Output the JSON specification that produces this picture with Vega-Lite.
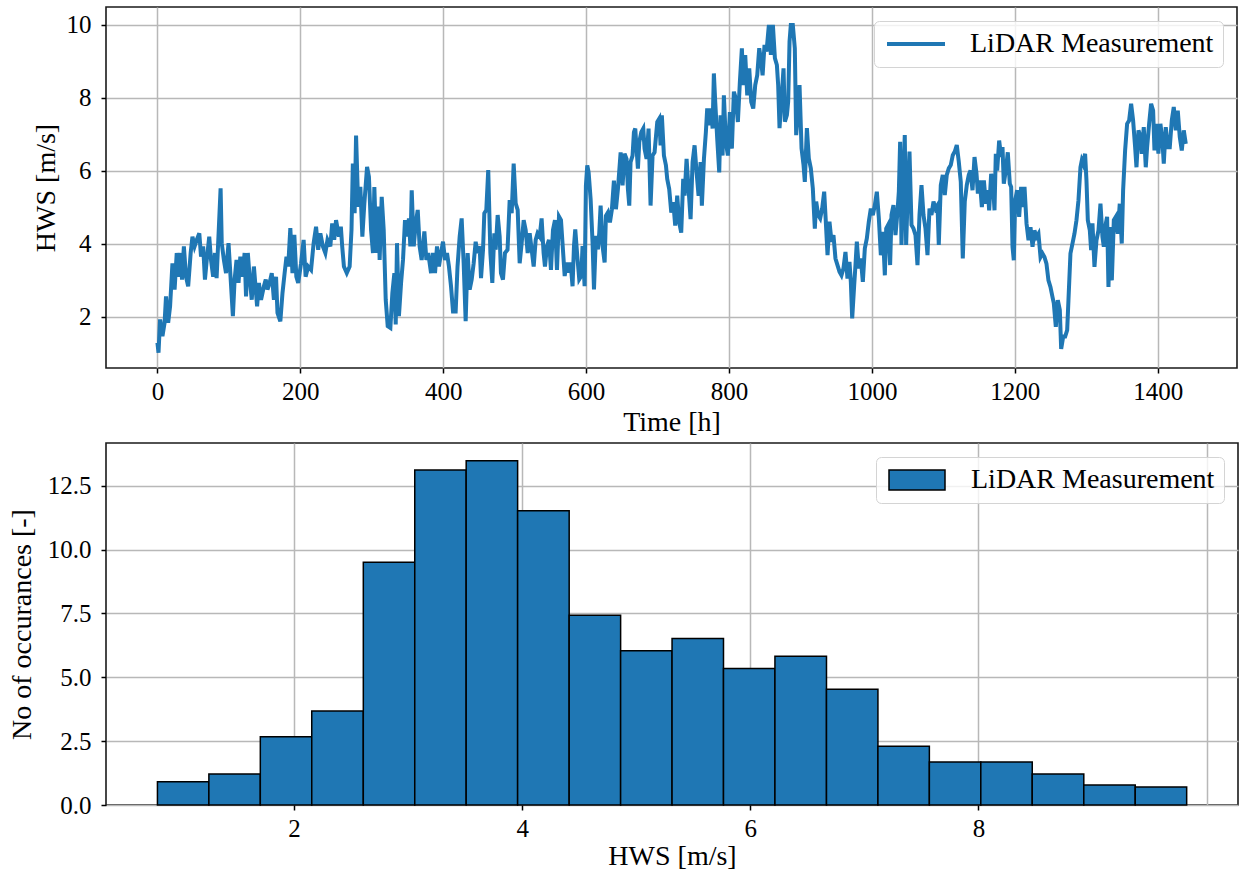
{
"$schema": "https://vega.github.io/schema/vega-lite/v6.json",
"background": "white",
"padding": {"left": 7, "top": 6, "right": 2, "bottom": 2},
"spacing": 5,
"config": {
  "font": "Liberation Serif",
  "view": {"stroke": "#1a1a1a", "strokeWidth": 1.6},
  "axis": {"labelFont": "Liberation Serif", "labelFontSize": 25, "labelColor": "black", "titleFont": "Liberation Serif", "titleFontSize": 28, "titleFontWeight": "normal", "titleColor": "black", "grid": true, "gridColor": "#b8b8b8", "gridWidth": 1.5, "domain": false, "tickColor": "black", "tickSize": 5, "tickWidth": 1.5, "labelPadding": 6, "titlePadding": 4, "labelFlush": false}
},
"datasets": {
"ts": [
{"t":0,"v":1.29},{"t":1.5,"v":1.02},{"t":3.7,"v":1.93},{"t":7,"v":1.47},{"t":10,"v":1.84},{"t":12,"v":2.56},{"t":15,"v":1.84},{"t":17.7,"v":2.29},{"t":21,"v":3.47},{"t":24,"v":2.75},{"t":27,"v":3.75},{"t":30,"v":3.1},{"t":32.6,"v":3.75},{"t":34.4,"v":3.02},{"t":37,"v":3.93},{"t":40,"v":3.1},{"t":43,"v":2.84},{"t":46.5,"v":3.75},{"t":49,"v":4.2},{"t":52,"v":3.93},{"t":55,"v":4.11},{"t":58.6,"v":4.29},{"t":61,"v":3.65},{"t":64,"v":3.93},{"t":66.5,"v":3.02},{"t":69,"v":3.56},{"t":72.5,"v":4.2},{"t":75,"v":3.56},{"t":78,"v":3.1},{"t":80.5,"v":3.75},{"t":82.8,"v":3.06},{"t":85.6,"v":4.29},{"t":88.4,"v":5.52},{"t":90,"v":4.02},{"t":93,"v":3.56},{"t":96,"v":3.2},{"t":99.5,"v":4.02},{"t":102,"v":3.2},{"t":105.6,"v":2.02},{"t":108,"v":3.02},{"t":110.7,"v":3.56},{"t":113.5,"v":2.93},{"t":116,"v":3.65},{"t":119,"v":3.1},{"t":122,"v":3.75},{"t":124,"v":2.56},{"t":126.5,"v":3.75},{"t":129,"v":3.1},{"t":132,"v":2.47},{"t":135,"v":3.38},{"t":137.6,"v":2.75},{"t":139.5,"v":2.29},{"t":142,"v":2.93},{"t":145,"v":2.47},{"t":149,"v":2.84},{"t":151.6,"v":3.02},{"t":154,"v":2.75},{"t":157,"v":2.93},{"t":160,"v":3.2},{"t":163,"v":2.47},{"t":166,"v":3.1},{"t":168,"v":2.11},{"t":172,"v":1.88},{"t":175,"v":2.65},{"t":178,"v":3.2},{"t":180.6,"v":3.65},{"t":183,"v":3.38},{"t":186,"v":4.43},{"t":189,"v":3.2},{"t":191.6,"v":4.25},{"t":194.4,"v":3.1},{"t":197,"v":2.93},{"t":201,"v":3.47},{"t":204.6,"v":4.11},{"t":207.4,"v":3.1},{"t":211,"v":3.38},{"t":215,"v":3.29},{"t":218.6,"v":4.02},{"t":222,"v":4.47},{"t":225,"v":3.84},{"t":228,"v":4.29},{"t":231.6,"v":3.93},{"t":235,"v":3.75},{"t":238,"v":4.11},{"t":242,"v":3.93},{"t":244.6,"v":4.56},{"t":247.4,"v":4.11},{"t":250,"v":4.65},{"t":254,"v":4.2},{"t":256.7,"v":4.47},{"t":258.6,"v":3.93},{"t":261,"v":3.38},{"t":265,"v":3.2},{"t":269,"v":3.38},{"t":271.6,"v":4.38},{"t":273.5,"v":6.2},{"t":276,"v":4.84},{"t":278,"v":6.97},
{"t":281,"v":5.02},{"t":284,"v":5.56},{"t":286.8,"v":4.2},{"t":289.6,"v":5.11},{"t":293.4,"v":6.11},{"t":296,"v":5.84},{"t":299,"v":4.38},{"t":301.7,"v":3.75},{"t":303.6,"v":5.56},{"t":306.4,"v":3.75},{"t":309.2,"v":5.02},{"t":311,"v":3.56},{"t":313.9,"v":5.29},{"t":316.7,"v":4.38},{"t":319.5,"v":2.47},{"t":322.3,"v":1.75},{"t":326,"v":1.7},{"t":328.8,"v":2.65},{"t":331.6,"v":3.2},{"t":333.5,"v":1.79},{"t":335.3,"v":4.02},{"t":338,"v":2.02},{"t":341,"v":2.93},{"t":343.7,"v":3.56},{"t":346.5,"v":4.65},{"t":349.3,"v":4.2},{"t":352,"v":4.7},{"t":354,"v":3.93},{"t":355.9,"v":5.47},{"t":358.7,"v":3.93},{"t":361.5,"v":4.56},{"t":364.3,"v":4.93},{"t":367,"v":3.93},{"t":369.8,"v":3.56},{"t":373.6,"v":4.34},{"t":376.4,"v":3.56},{"t":379,"v":3.75},{"t":383,"v":3.2},{"t":385.7,"v":3.75},{"t":388.5,"v":3.2},{"t":391.3,"v":3.93},{"t":394,"v":3.38},{"t":396.9,"v":3.75},{"t":399.7,"v":4.06},{"t":402.5,"v":3.56},{"t":405.3,"v":3.75},{"t":408,"v":3.38},{"t":410.9,"v":2.84},{"t":413.7,"v":2.15},{"t":417.4,"v":2.15},{"t":420,"v":3.38},{"t":423,"v":4.2},{"t":425.8,"v":4.7},{"t":428.6,"v":3.47},{"t":431.4,"v":1.88},{"t":434.2,"v":3.75},{"t":437,"v":2.75},{"t":439.8,"v":3.02},{"t":442.6,"v":3.47},{"t":445.4,"v":4.06},{"t":448,"v":3.75},{"t":451,"v":3.93},{"t":452.9,"v":3.06},{"t":455.7,"v":3.84},{"t":457.5,"v":4.84},{"t":460.3,"v":4.93},{"t":463,"v":6.02},{"t":466,"v":3.75},{"t":468.7,"v":2.93},{"t":471.5,"v":4.29},{"t":473.4,"v":3.84},{"t":476.2,"v":4.79},{"t":479,"v":4.2},{"t":480.8,"v":3.2},{"t":483.6,"v":3.02},{"t":486.4,"v":3.75},{"t":490,"v":3.84},{"t":493,"v":5.2},{"t":495.8,"v":4.84},{"t":498.6,"v":6.2},{"t":501.4,"v":5.11},{"t":504.2,"v":4.93},{"t":507,"v":3.47},{"t":509.8,"v":4.02},{"t":512.6,"v":4.65},{"t":515.4,"v":4.38},{"t":518.2,"v":3.75},{"t":521,"v":4.29},{"t":523.8,"v":3.84},{"t":526.6,"v":3.38},{"t":529.4,"v":4.11},{"t":532,"v":4.29},{"t":535,"v":4.2},{"t":537.7,"v":4.7},{"t":540.5,"v":3.75},{"t":542.4,"v":3.38},{"t":545.2,"v":3.93},{"t":548,"v":4.11},{"t":550.8,"v":3.29},{"t":553.6,"v":4.38},{"t":556.4,"v":4.65},{"t":559.2,"v":3.29},{"t":562,"v":4.75},{"t":564.8,"v":4.65},
{"t":570,"v":3.12},{"t":572.7,"v":3.49},{"t":575.5,"v":3.21},{"t":578.3,"v":3.49},{"t":581,"v":2.84},{"t":583,"v":3.94},{"t":584.8,"v":4.4},{"t":587.6,"v":3.67},{"t":590.4,"v":3.03},{"t":593.2,"v":3.12},{"t":595,"v":3.94},{"t":597.9,"v":2.84},{"t":599.7,"v":5.6},{"t":601.6,"v":6.15},{"t":603.5,"v":5.96},{"t":606.3,"v":5.23},{"t":609,"v":4.04},{"t":611,"v":2.75},{"t":613.7,"v":4.22},{"t":616.5,"v":3.85},{"t":618.4,"v":4.31},{"t":620.3,"v":5.05},{"t":623,"v":3.94},{"t":625.9,"v":3.49},{"t":627.7,"v":4.77},{"t":630.5,"v":4.86},{"t":633.3,"v":4.59},{"t":636.1,"v":4.95},{"t":638.9,"v":5.73},{"t":641.7,"v":4.95},{"t":644.5,"v":5.5},{"t":648.3,"v":6.51},{"t":651,"v":5.6},{"t":653.8,"v":6.47},{"t":656.6,"v":6.33},{"t":658.5,"v":5.5},{"t":660.4,"v":5.05},{"t":662.2,"v":6.24},{"t":665,"v":6.42},{"t":666.9,"v":7.06},{"t":668.8,"v":7.16},{"t":670.6,"v":6.61},{"t":672.5,"v":6.06},{"t":674.4,"v":6.79},{"t":677.2,"v":7.06},{"t":680,"v":7.16},{"t":681.8,"v":6.61},{"t":684.6,"v":6.33},{"t":687.4,"v":7.16},{"t":690.2,"v":5.05},{"t":693,"v":6.42},{"t":695.8,"v":6.51},{"t":699.6,"v":7.34},{"t":702.4,"v":7.43},{"t":704.2,"v":6.7},{"t":706,"v":7.52},{"t":708.9,"v":6.42},{"t":711.7,"v":6.15},{"t":713.5,"v":5.78},{"t":716.3,"v":5.5},{"t":719.2,"v":4.86},{"t":722,"v":5.14},{"t":724.7,"v":4.5},{"t":727.5,"v":5.32},{"t":730.3,"v":4.59},{"t":733.1,"v":4.31},{"t":735.9,"v":5.78},{"t":737.8,"v":5.32},{"t":740.6,"v":6.33},{"t":743.4,"v":5.5},{"t":746.2,"v":4.68},{"t":749,"v":6.24},{"t":751.8,"v":6.7},{"t":754.6,"v":5.96},{"t":757.4,"v":5.32},{"t":760.2,"v":6.24},{"t":762,"v":5.05},{"t":764.9,"v":6.33},{"t":767.6,"v":7.06},{"t":769.5,"v":7.71},{"t":772.3,"v":7.25},{"t":775.1,"v":7.71},{"t":777,"v":7.16},{"t":778.8,"v":8.67},{"t":780.7,"v":7.89},{"t":783.5,"v":6.88},{"t":786.3,"v":5.96},{"t":788.2,"v":7.52},{"t":791,"v":6.42},{"t":792.8,"v":8.07},{"t":795.6,"v":6.79},{"t":798.4,"v":6.42},{"t":801.2,"v":7.61},{"t":804,"v":6.61},{"t":806.8,"v":8.17},{"t":809.6,"v":7.98},{"t":812.4,"v":7.34},{"t":815.2,"v":8.44},{"t":818,"v":9.36},{"t":819.9,"v":8.35},{"t":822.7,"v":9.17},{"t":825.5,"v":8.07},{"t":828.3,"v":8.81},{"t":831.1,"v":7.89},{"t":833.9,"v":7.71},{"t":836.7,"v":8.35},{"t":839.5,"v":8.62},{"t":842.3,"v":9.36},{"t":845.1,"v":8.99},{"t":847,"v":8.62},{"t":849.7,"v":9.45},{"t":852.5,"v":9.27},
{"t":855.8,"v":10.0},{"t":858.6,"v":9.18},{"t":861.4,"v":10.0},{"t":864.2,"v":9.09},{"t":867,"v":8.9},{"t":868.8,"v":8.35},{"t":870.7,"v":7.17},{"t":873.5,"v":7.99},{"t":876.3,"v":8.81},{"t":878.2,"v":7.35},{"t":881,"v":7.53},{"t":882.8,"v":7.9},{"t":884.7,"v":9.54},{"t":886.5,"v":10.0},{"t":889.3,"v":10.0},{"t":892.1,"v":9.36},{"t":894,"v":6.98},{"t":896.8,"v":7.71},{"t":898.7,"v":8.35},{"t":901.5,"v":6.62},{"t":904.3,"v":6.16},{"t":906.1,"v":5.7},{"t":909,"v":7.17},{"t":911.7,"v":6.34},{"t":914.5,"v":6.07},{"t":917.3,"v":5.52},{"t":920.1,"v":4.42},{"t":922,"v":5.16},{"t":924.8,"v":4.79},{"t":927.6,"v":4.7},{"t":930.4,"v":4.97},{"t":933.2,"v":5.43},{"t":935,"v":4.79},{"t":937.9,"v":3.69},{"t":940.6,"v":4.61},{"t":943.5,"v":4.06},{"t":946.2,"v":4.24},{"t":949,"v":3.6},{"t":951.8,"v":3.42},{"t":954.6,"v":3.24},{"t":957.4,"v":3.14},{"t":960.2,"v":3.33},{"t":963,"v":3.78},{"t":965.8,"v":3.05},{"t":968.6,"v":3.51},{"t":970.5,"v":2.96},{"t":972.4,"v":1.96},{"t":975.2,"v":2.87},{"t":977,"v":3.42},{"t":978.9,"v":4.06},{"t":981.7,"v":3.33},{"t":984.5,"v":3.6},{"t":987.3,"v":2.96},{"t":990.1,"v":3.88},{"t":992.9,"v":4.15},{"t":995.7,"v":4.61},{"t":998.5,"v":4.97},{"t":1001.3,"v":4.79},{"t":1004.1,"v":5.06},{"t":1006.9,"v":5.43},{"t":1009.7,"v":4.7},{"t":1012.5,"v":3.69},{"t":1015.3,"v":4.33},{"t":1018.1,"v":3.14},{"t":1020,"v":4.42},{"t":1022.7,"v":4.52},{"t":1025.5,"v":3.42},{"t":1027.4,"v":4.79},{"t":1030.2,"v":5.06},{"t":1033,"v":4.24},{"t":1035.8,"v":4.88},{"t":1037.7,"v":5.43},{"t":1039.5,"v":6.8},{"t":1041.4,"v":3.97},{"t":1044.2,"v":5.89},{"t":1046,"v":6.98},{"t":1047.9,"v":3.97},{"t":1049.8,"v":5.16},{"t":1052.6,"v":6.53},{"t":1055.4,"v":4.52},{"t":1058.2,"v":4.42},{"t":1061,"v":4.24},{"t":1063.8,"v":3.42},{"t":1066.6,"v":4.79},{"t":1069.4,"v":5.61},{"t":1072.2,"v":4.79},{"t":1075,"v":4.42},{"t":1077.8,"v":3.69},{"t":1080.6,"v":4.97},{"t":1083.4,"v":4.79},{"t":1086.2,"v":5.16},{"t":1089,"v":4.97},{"t":1091.8,"v":5.06},{"t":1093.6,"v":3.97},{"t":1096.4,"v":5.61},{"t":1099.2,"v":5.89},{"t":1102,"v":5.34},{"t":1104.8,"v":5.89},{"t":1107.6,"v":6.07},{"t":1110.4,"v":6.16},{"t":1113.2,"v":6.43},{"t":1116,"v":6.53},{"t":1118.8,"v":6.71},{"t":1121.6,"v":6.25},{"t":1124.4,"v":5.7},{"t":1127.2,"v":3.6},{"t":1130,"v":5.16},{"t":1132.8,"v":5.61},{"t":1135.6,"v":5.89},
{"t":1138,"v":6.01},{"t":1140.8,"v":5.47},{"t":1143.6,"v":6.38},{"t":1146.4,"v":5.92},{"t":1148.3,"v":5.38},{"t":1151,"v":5.74},{"t":1153.9,"v":5.01},{"t":1156.7,"v":5.74},{"t":1159.5,"v":5.1},{"t":1162.3,"v":5.47},{"t":1164.1,"v":4.92},{"t":1166.9,"v":5.92},{"t":1169.7,"v":5.56},{"t":1171.6,"v":4.92},{"t":1173.4,"v":6.47},{"t":1175.3,"v":6.01},{"t":1178.1,"v":6.83},{"t":1180.9,"v":6.38},{"t":1182.8,"v":6.65},{"t":1184.6,"v":5.65},{"t":1187.4,"v":6.01},{"t":1190.2,"v":6.51},{"t":1193,"v":5.65},{"t":1194.9,"v":5.56},{"t":1196.8,"v":3.92},{"t":1198.6,"v":3.55},{"t":1200.5,"v":5.19},{"t":1203.3,"v":5.47},{"t":1206.1,"v":4.74},{"t":1208.9,"v":5.56},{"t":1210.8,"v":5.01},{"t":1213.6,"v":5.56},{"t":1216.4,"v":4.56},{"t":1219.2,"v":4.1},{"t":1222,"v":4.46},{"t":1224.8,"v":3.92},{"t":1227.5,"v":4.37},{"t":1230.3,"v":4.19},{"t":1233.1,"v":4.28},{"t":1236,"v":3.64},{"t":1238.7,"v":3.74},{"t":1241.5,"v":3.64},{"t":1244.3,"v":3.46},{"t":1247.1,"v":3.0},{"t":1249.9,"v":2.82},{"t":1252.7,"v":2.55},{"t":1254.6,"v":2.37},{"t":1257.4,"v":1.73},{"t":1260.2,"v":2.46},{"t":1263,"v":2.19},{"t":1264.9,"v":1.12},{"t":1267.7,"v":1.46},{"t":1270.5,"v":1.46},{"t":1273.3,"v":1.64},{"t":1275.1,"v":2.46},{"t":1277.9,"v":3.74},{"t":1280.7,"v":4.01},{"t":1283.5,"v":4.28},{"t":1286.3,"v":4.65},{"t":1289.1,"v":5.19},{"t":1291.9,"v":6.1},{"t":1293.8,"v":6.29},{"t":1295.6,"v":6.2},{"t":1298.4,"v":6.47},{"t":1300.3,"v":5.74},{"t":1302.2,"v":4.65},{"t":1305,"v":4.37},{"t":1306.8,"v":3.83},{"t":1308.7,"v":4.56},{"t":1311.5,"v":3.37},{"t":1314.3,"v":4.1},{"t":1317.1,"v":4.37},{"t":1319.9,"v":5.1},{"t":1322.7,"v":4.19},{"t":1324.6,"v":3.92},{"t":1327.4,"v":4.56},{"t":1329.2,"v":4.74},{"t":1331.1,"v":2.82},{"t":1333,"v":4.46},{"t":1335.8,"v":3.0},{"t":1338.6,"v":4.65},{"t":1341.4,"v":4.74},{"t":1344.1,"v":4.28},{"t":1346.9,"v":5.1},{"t":1349.7,"v":4.01},{"t":1351.6,"v":5.47},{"t":1354.4,"v":6.56},{"t":1357.2,"v":7.29},{"t":1360,"v":7.38},{"t":1362.8,"v":7.84},{"t":1365.6,"v":7.38},{"t":1368.4,"v":6.65},{"t":1370.3,"v":6.1},{"t":1373.1,"v":7.11},{"t":1375.9,"v":6.93},{"t":1377.7,"v":6.47},{"t":1380.5,"v":7.2},{"t":1383.3,"v":6.1},{"t":1385.2,"v":6.65},{"t":1388,"v":7.29},{"t":1390.8,"v":7.84},{"t":1393.6,"v":7.65},{"t":1395.5,"v":6.56},{"t":1398.3,"v":7.29},{"t":1401,"v":6.47},{"t":1403.8,"v":7.29},{"t":1406.6,"v":6.83},{"t":1408.5,"v":6.2},{"t":1411.3,"v":7.2},{"t":1414.1,"v":6.65},{"t":1416.9,"v":6.65},{"t":1419.7,"v":7.38},{"t":1422.5,"v":7.75},{"t":1425.3,"v":7.11},{"t":1428.1,"v":7.65},{"t":1430.9,"v":6.93},{"t":1433.7,"v":6.56},{"t":1436.5,"v":7.11},{"t":1439.3,"v":6.74}
],
"hist": [
{"x0":0.802,"x1":1.253,"c":0.91},{"x0":1.253,"x1":1.704,"c":1.21},{"x0":1.704,"x1":2.155,"c":2.67},{"x0":2.155,"x1":2.607,"c":3.68},{"x0":2.607,"x1":3.058,"c":9.5},{"x0":3.058,"x1":3.509,"c":13.11},{"x0":3.509,"x1":3.96,"c":13.48},{"x0":3.96,"x1":4.412,"c":11.52},{"x0":4.412,"x1":4.863,"c":7.43},{"x0":4.863,"x1":5.314,"c":6.04},{"x0":5.314,"x1":5.765,"c":6.52},{"x0":5.765,"x1":6.216,"c":5.34},{"x0":6.216,"x1":6.668,"c":5.82},{"x0":6.668,"x1":7.119,"c":4.53},{"x0":7.119,"x1":7.57,"c":2.3},{"x0":7.57,"x1":8.021,"c":1.68},{"x0":8.021,"x1":8.472,"c":1.68},{"x0":8.472,"x1":8.924,"c":1.21},{"x0":8.924,"x1":9.375,"c":0.78},{"x0":9.375,"x1":9.826,"c":0.7}
]
},
"vconcat": [
{
  "width": 1131, "height": 361,
  "data": {"name": "ts"},
  "mark": {"type": "line", "strokeWidth": 4, "clip": true},
  "encoding": {
    "x": {"field": "t", "type": "quantitative", "scale": {"domain": [-72, 1511], "nice": false, "zero": false}, "axis": {"values": [0,200,400,600,800,1000,1200,1400], "format": "d", "title": "Time [h]"}},
    "y": {"field": "v", "type": "quantitative", "scale": {"domain": [0.6, 10.49], "nice": false, "zero": false}, "axis": {"values": [2,4,6,8,10], "title": "HWS [m/s]", "labelPadding": 10, "titlePadding": 6}},
    "color": {"datum": "LiDAR Measurement", "type": "nominal", "scale": {"range": ["#1f77b4"]},
      "legend": {"title": null, "orient": "top-right", "offset": 14, "fillColor": "rgba(255,255,255,0.8)", "strokeColor": "#d4d4d4", "cornerRadius": 5, "padding": 9, "symbolType": "M-1,0L4.8,0", "symbolSize": 400, "symbolStrokeWidth": 4, "labelOffset": 59, "labelLimit": 0, "labelFont": "Liberation Serif", "labelFontSize": 28, "labelColor": "black"}}
  }
},
{
  "width": 1132, "height": 362,
  "data": {"name": "hist"},
  "mark": {"type": "bar", "stroke": "black", "strokeWidth": 1.5},
  "encoding": {
    "x": {"field": "x0", "type": "quantitative", "scale": {"domain": [0.351, 10.276], "nice": false, "zero": false}, "axis": {"values": [2,4,6,8,10], "labelExpr": "datum.value == 10 ? '' : datum.label", "tickColor": {"condition": {"test": "datum.value == 10", "value": "transparent"}, "value": "black"}, "title": "HWS [m/s]", "titlePadding": 1}},
    "x2": {"field": "x1"},
    "y": {"field": "c", "type": "quantitative", "scale": {"domain": [0, 14.17], "nice": false}, "axis": {"values": [0,2.5,5,7.5,10,12.5], "format": ".1f", "title": "No of occurances [-]", "labelPadding": 10, "titlePadding": 11}},
    "y2": {"datum": 0},
    "color": {"datum": "LiDAR Measurement", "type": "nominal", "scale": {"range": ["#1f77b4"]},
      "legend": {"title": null, "orient": "top-right", "offset": 14, "fillColor": "rgba(255,255,255,0.8)", "strokeColor": "#d4d4d4", "cornerRadius": 5, "padding": 9, "symbolType": "M-1,-1L4.6,-1L4.6,1L-1,1Z", "symbolSize": 400, "symbolStrokeColor": "black", "symbolStrokeWidth": 1.5, "labelOffset": 58, "labelLimit": 0, "labelFont": "Liberation Serif", "labelFontSize": 28, "labelColor": "black",
        "encode": {"symbols": {"update": {"stroke": {"value": "black"}, "strokeWidth": {"value": 1.5}}}}}}
  }
}
],
"resolve": {"scale": {"color": "independent"}, "legend": {"color": "independent"}}
}
